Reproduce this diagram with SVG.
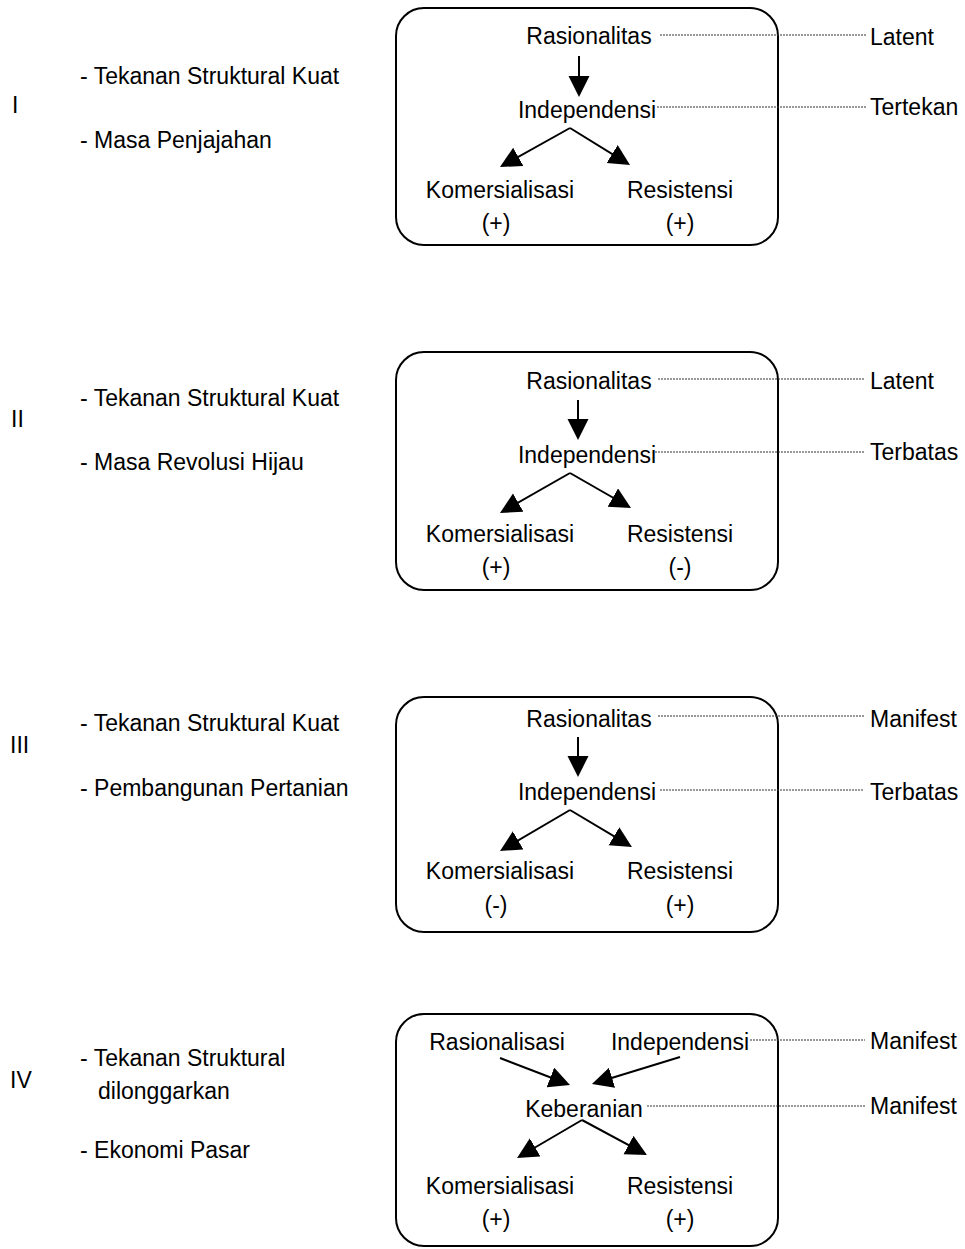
<svg xmlns="http://www.w3.org/2000/svg" width="965" height="1249" viewBox="0 0 965 1249">
<style>
text{font-family:"Liberation Sans",Arial,sans-serif;font-size:23px;fill:#000}
.c{text-anchor:middle}
.box{fill:none;stroke:#000;stroke-width:2}
.arr{stroke:#000;stroke-width:2;fill:none;marker-end:url(#ah)}
.dot{stroke:#333;stroke-width:1;stroke-dasharray:2 1;fill:none}
</style>
<defs>
<marker id="ah" markerUnits="userSpaceOnUse" markerWidth="22" markerHeight="22" refX="15" refY="10.5" orient="auto">
<path d="M0,0 L21,10.5 L0,21 z" fill="#000"/>
</marker>
</defs>
<rect width="965" height="1249" fill="#fff"/>

<g id="labels-left">
<text x="80" y="84">- Tekanan Struktural Kuat</text>
<text x="12" y="113">I</text>
<text x="80" y="148">- Masa Penjajahan</text>
<text x="80" y="406">- Tekanan Struktural Kuat</text>
<text x="11" y="427">II</text>
<text x="80" y="470">- Masa Revolusi Hijau</text>
<text x="80" y="731">- Tekanan Struktural Kuat</text>
<text x="10" y="753">III</text>
<text x="80" y="796">- Pembangunan Pertanian</text>
<text x="80" y="1066">- Tekanan Struktural</text>
<text x="98" y="1099">dilonggarkan</text>
<text x="10" y="1088">IV</text>
<text x="80" y="1158">- Ekonomi Pasar</text>
</g>

<g id="box1"><rect class="box" x="396" y="8" width="382" height="237" rx="28"/></g>
<g id="box2"><rect class="box" x="396" y="352" width="382" height="238" rx="28"/></g>
<g id="box3"><rect class="box" x="396" y="697" width="382" height="235" rx="28"/></g>
<g id="box4"><rect class="box" x="396" y="1014" width="382" height="232" rx="28"/></g>

<g id="connectors">
<line class="arr" x1="579" y1="56" x2="579" y2="91"/>
<line class="arr" x1="570" y1="128" x2="505.2" y2="164.1"/>
<line class="arr" x1="570" y1="128" x2="624.9" y2="161.9"/>
<line class="arr" x1="578" y1="400" x2="578" y2="434"/>
<line class="arr" x1="570" y1="473" x2="505.2" y2="510"/>
<line class="arr" x1="570" y1="473" x2="625.8" y2="505"/>
<line class="arr" x1="578" y1="737" x2="578" y2="771"/>
<line class="arr" x1="570" y1="810" x2="505.2" y2="848"/>
<line class="arr" x1="570" y1="810" x2="626.8" y2="843.9"/>
<line class="arr" x1="500" y1="1058" x2="564.4" y2="1082.8"/>
<line class="arr" x1="680" y1="1057" x2="597.7" y2="1082.2"/>
<line class="arr" x1="582" y1="1120" x2="522.2" y2="1155"/>
<line class="arr" x1="582" y1="1120" x2="641.7" y2="1152.2"/>
<line class="dot" x1="660" y1="35" x2="867" y2="35"/>
<line class="dot" x1="657" y1="107" x2="867" y2="107"/>
<line class="dot" x1="658" y1="379" x2="864" y2="379"/>
<line class="dot" x1="655" y1="452" x2="864" y2="452"/>
<line class="dot" x1="658" y1="716" x2="864" y2="716"/>
<line class="dot" x1="660" y1="790" x2="864" y2="790"/>
<line class="dot" x1="750" y1="1040" x2="865" y2="1040"/>
<line class="dot" x1="647" y1="1106" x2="865" y2="1106"/>
</g>

<g id="n1-rasionalitas"><text class="c" x="589" y="44">Rasionalitas</text></g>
<g id="n1-independensi"><text class="c" x="587" y="118">Independensi</text></g>
<g id="n1-komersialisasi"><text class="c" x="500" y="198">Komersialisasi</text><text class="c" x="496" y="231">(+)</text></g>
<g id="n1-resistensi"><text class="c" x="680" y="198">Resistensi</text><text class="c" x="680" y="231">(+)</text></g>
<g id="n1-latent"><text x="870" y="45">Latent</text></g>
<g id="n1-tertekan"><text x="870" y="115">Tertekan</text></g>

<g id="n2-rasionalitas"><text class="c" x="589" y="389">Rasionalitas</text></g>
<g id="n2-independensi"><text class="c" x="587" y="463">Independensi</text></g>
<g id="n2-komersialisasi"><text class="c" x="500" y="542">Komersialisasi</text><text class="c" x="496" y="575">(+)</text></g>
<g id="n2-resistensi"><text class="c" x="680" y="542">Resistensi</text><text class="c" x="680" y="575">(-)</text></g>
<g id="n2-latent"><text x="870" y="389">Latent</text></g>
<g id="n2-terbatas"><text x="870" y="460">Terbatas</text></g>

<g id="n3-rasionalitas"><text class="c" x="589" y="727">Rasionalitas</text></g>
<g id="n3-independensi"><text class="c" x="587" y="800">Independensi</text></g>
<g id="n3-komersialisasi"><text class="c" x="500" y="879">Komersialisasi</text><text class="c" x="496" y="913">(-)</text></g>
<g id="n3-resistensi"><text class="c" x="680" y="879">Resistensi</text><text class="c" x="680" y="913">(+)</text></g>
<g id="n3-manifest"><text x="870" y="727">Manifest</text></g>
<g id="n3-terbatas"><text x="870" y="800">Terbatas</text></g>

<g id="n4-rasionalisasi"><text class="c" x="497" y="1050">Rasionalisasi</text></g>
<g id="n4-independensi"><text class="c" x="680" y="1050">Independensi</text></g>
<g id="n4-keberanian"><text class="c" x="584" y="1117">Keberanian</text></g>
<g id="n4-komersialisasi"><text class="c" x="500" y="1194">Komersialisasi</text><text class="c" x="496" y="1227">(+)</text></g>
<g id="n4-resistensi"><text class="c" x="680" y="1194">Resistensi</text><text class="c" x="680" y="1227">(+)</text></g>
<g id="n4-manifest1"><text x="870" y="1049">Manifest</text></g>
<g id="n4-manifest2"><text x="870" y="1114">Manifest</text></g>
</svg>
